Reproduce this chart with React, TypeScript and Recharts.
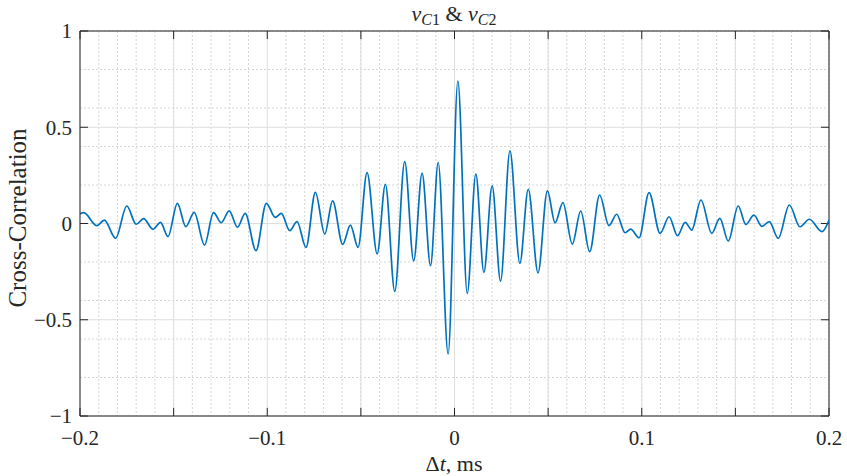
import React from "react"
import { LineChart, Line, XAxis, YAxis, CartesianGrid, ReferenceLine } from "recharts"

const lags = [
    -0.2, -0.198, -0.191, -0.187, -0.181, -0.175, -0.17, -0.166, -0.161, -0.157,
    -0.153, -0.148, -0.1435, -0.139, -0.1335, -0.1287, -0.1246, -0.1203, -0.1159, -0.1118,
    -0.106, -0.1005, -0.0957, -0.0925, -0.088, -0.0841, -0.0793, -0.0743, -0.0693, -0.0651,
    -0.0597, -0.0556, -0.0515, -0.0467, -0.0413, -0.0369, -0.0319, -0.0266, -0.0218, -0.0173,
    -0.0128, -0.0087, -0.0034, 0.0018, 0.0068, 0.0114, 0.0157, 0.0201, 0.0246, 0.0296,
    0.0349, 0.0394, 0.0446, 0.0496, 0.0537, 0.0579, 0.0629, 0.0674, 0.0722, 0.0775,
    0.0825, 0.0866, 0.0911, 0.0941, 0.0986, 0.1039, 0.1098, 0.1146, 0.1191, 0.1232,
    0.1267, 0.1316, 0.1374, 0.1417, 0.1462, 0.1515, 0.1556, 0.1599, 0.1642, 0.1681,
    0.1729, 0.1788, 0.1845, 0.1895, 0.1963, 0.2,
]
const corr = [
    0.05, 0.056, -0.011, 0.018, -0.077, 0.091, -0.004, 0.025, -0.03, 0.006,
    -0.068, 0.105, -0.016, 0.058, -0.112, 0.056, 0.004, 0.066, -0.02, 0.053,
    -0.141, 0.105, 0.032, 0.053, -0.037, 0.01, -0.124, 0.162, -0.055, 0.118,
    -0.108, -0.008, -0.124, 0.264, -0.158, 0.204, -0.353, 0.321, -0.194, 0.262,
    -0.219, 0.317, -0.678, 0.74, -0.363, 0.256, -0.254, 0.195, -0.299, 0.377,
    -0.207, 0.178, -0.256, 0.17, 0.004, 0.108, -0.107, 0.065, -0.146, 0.148,
    -0.011, 0.048, -0.048, -0.029, -0.074, 0.16, -0.051, 0.035, -0.063, 0.006,
    -0.034, 0.122, -0.051, 0.027, -0.091, 0.091, -0.005, 0.043, -0.015, 0.01,
    -0.077, 0.096, -0.017, 0.022, -0.042, 0.018,
]

const xTicks = [-0.2, -0.15, -0.1, -0.05, 0, 0.05, 0.1, 0.15, 0.2]
const yTicks = [-1, -0.5, 0, 0.5, 1]
const xMinor = Array.from({ length: 41 }, (_, i) => Math.round((-0.2 + i * 0.01) * 1000) / 1000)
const yMinor = Array.from({ length: 21 }, (_, i) => Math.round((-1 + i * 0.1) * 1000) / 1000)

const data = lags.map((t, i) => ({ t, v: corr[i] }))

const AX = "#262626"
const FONT = "Liberation Serif, Times New Roman, DejaVu Serif, serif"

const fmt = (v: number) => {
    if (v === 0) return "0"
    return (v < 0 ? "\u2212" : "") + String(Math.abs(v))
}
const fmtX = (v: number) => (Math.abs(v * 10 - Math.round(v * 10)) < 1e-9 ? fmt(v) : "")

// inward tick length in data units (~8px)
const TX = 0.0043
const TY = 0.042

export default function App() {
    return (
        <div style={{ position: "absolute", left: 0, top: 0, width: 847, height: 476, background: "#fff" }}>
            <LineChart width={847} height={476} data={data} margin={{ top: 31, right: 18, left: 0, bottom: 30 }}>
                <CartesianGrid
                    verticalValues={xMinor}
                    horizontalValues={yMinor}
                    stroke="#d6d6d6"
                    strokeDasharray="2 2"
                />
                <CartesianGrid verticalValues={xTicks} horizontalValues={yTicks} stroke="#dedede" />
                <XAxis
                    dataKey="t"
                    type="number"
                    domain={[-0.2, 0.2]}
                    ticks={xTicks}
                    tickFormatter={fmtX}
                    tickLine={false}
                    tickMargin={8}
                    height={30}
                    stroke={AX}
                    tick={{ fill: AX, fontSize: 21, fontFamily: FONT }}
                    allowDataOverflow
                />
                <YAxis
                    type="number"
                    domain={[-1, 1]}
                    ticks={yTicks}
                    tickFormatter={fmt}
                    tickLine={false}
                    width={80}
                    stroke={AX}
                    tick={{ fill: AX, fontSize: 21, fontFamily: FONT }}
                    allowDataOverflow
                />
                <ReferenceLine y={1} stroke={AX} />
                <ReferenceLine x={0.2} stroke={AX} />
                {xTicks.map((t) => (
                    <ReferenceLine key={`xb${t}`} segment={[{ x: t, y: -1 }, { x: t, y: -1 + TY }]} stroke={AX} />
                ))}
                {xTicks.map((t) => (
                    <ReferenceLine key={`xt${t}`} segment={[{ x: t, y: 1 }, { x: t, y: 1 - TY }]} stroke={AX} />
                ))}
                {yTicks.map((v) => (
                    <ReferenceLine key={`yl${v}`} segment={[{ x: -0.2, y: v }, { x: -0.2 + TX, y: v }]} stroke={AX} />
                ))}
                {yTicks.map((v) => (
                    <ReferenceLine key={`yr${v}`} segment={[{ x: 0.2, y: v }, { x: 0.2 - TX, y: v }]} stroke={AX} />
                ))}
                <Line
                    type="monotone"
                    dataKey="v"
                    stroke="#0072BD"
                    strokeWidth={1.7}
                    dot={false}
                    isAnimationActive={false}
                />
            </LineChart>

            <svg width={847} height={476} style={{ position: "absolute", left: 0, top: 0, pointerEvents: "none" }}>
                <g fontFamily={FONT} fill={AX}>
                    <text x={454} y={21} textAnchor="middle" fontSize={22}>
                        <tspan fontStyle="italic">v</tspan>
                        <tspan fontSize={16} dy={4} fontStyle="italic">C</tspan>
                        <tspan fontSize={16}>1</tspan>
                        <tspan dy={-4}> &amp; </tspan>
                        <tspan fontStyle="italic">v</tspan>
                        <tspan fontSize={16} dy={4} fontStyle="italic">C</tspan>
                        <tspan fontSize={16}>2</tspan>
                    </text>
                    <text x={454} y={471} textAnchor="middle" fontSize={22}>
                        Δ<tspan fontStyle="italic">t</tspan>, ms
                    </text>
                    <text x={26} y={218} textAnchor="middle" fontSize={25} transform="rotate(-90 26 218)">
                        Cross-Correlation
                    </text>
                </g>
            </svg>
        </div>
    )
}
